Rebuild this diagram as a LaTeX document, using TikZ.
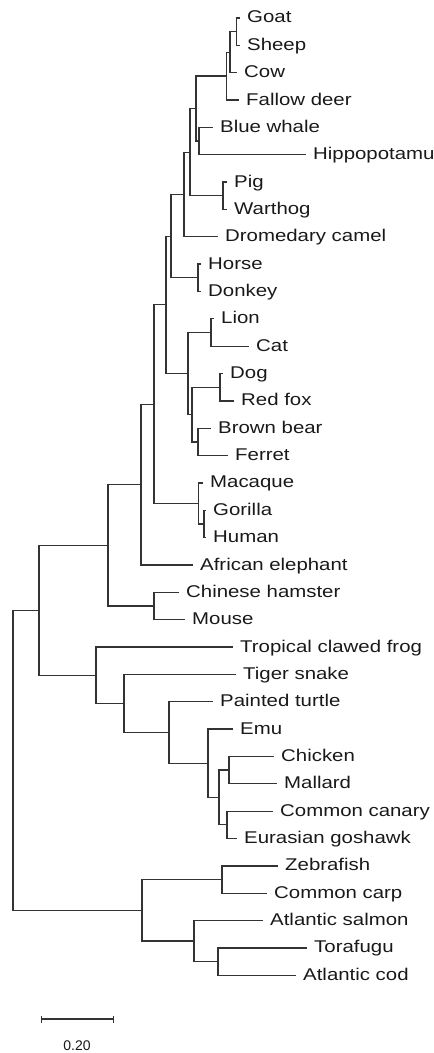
\documentclass[tikz,border=0pt]{standalone}
\usepackage{fontspec}
\setmainfont{Liberation Sans}
\newfontfamily\leaffont{Liberation Sans}[FakeStretch=1.2]
\usetikzlibrary{arrows.meta}

\begin{document}
\begin{tikzpicture}[
  x=1pt, y=-27.35pt,
  font=\leaffont\fontsize{17}{20}\selectfont,
  leaf/.style={anchor=west, inner xsep=8pt, inner ysep=0pt,
               text height=12pt, text depth=2pt, text=black!90},
  branch/.style={draw=black!80, line width=1.3pt, line cap=rect},
  barend/.tip={Bar[width=7pt]}
]
\useasboundingbox (0,-0.658) rectangle (434,37.843);
% --- leaves --------------------------------------------------------------
\node[leaf] (goat)     at (239,0)  {Goat};
\node[leaf] (sheep)    at (239,1)  {Sheep};
\node[leaf] (cow)      at (236,2)  {Cow};
\node[leaf] (deer)     at (238,3)  {Fallow deer};
\node[leaf] (whale)    at (212,4)  {Blue whale};
\node[leaf] (hippo)    at (305,5)  {Hippopotamu};
\node[leaf] (pig)      at (226,6)  {Pig};
\node[leaf] (warthog)  at (226,7)  {Warthog};
\node[leaf] (camel)    at (217,8)  {Dromedary camel};
\node[leaf] (horse)    at (200,9)  {Horse};
\node[leaf] (donkey)   at (200,10) {Donkey};
\node[leaf] (lion)     at (213,11) {Lion};
\node[leaf] (cat)      at (248,12) {Cat};
\node[leaf] (dog)      at (222,13) {Dog};
\node[leaf] (fox)      at (233,14) {Red fox};
\node[leaf] (bear)     at (210,15) {Brown bear};
\node[leaf] (ferret)   at (227,16) {Ferret};
\node[leaf] (macaque)  at (202,17) {Macaque};
\node[leaf] (gorilla)  at (205,18) {Gorilla};
\node[leaf] (human)    at (205,19) {Human};
\node[leaf] (elephant) at (192,20) {African elephant};
\node[leaf] (hamster)  at (178,21) {Chinese hamster};
\node[leaf] (mouse)    at (184,22) {Mouse};
\node[leaf] (frog)     at (232,23) {Tropical clawed frog};
\node[leaf] (snake)    at (235,24) {Tiger snake};
\node[leaf] (turtle)   at (212,25) {Painted turtle};
\node[leaf] (emu)      at (232,26) {Emu};
\node[leaf] (chicken)  at (273,27) {Chicken};
\node[leaf] (mallard)  at (276,28) {Mallard};
\node[leaf] (canary)   at (272,29) {Common canary};
\node[leaf] (goshawk)  at (236,30) {Eurasian goshawk};
\node[leaf] (zebra)    at (277,31) {Zebrafish};
\node[leaf] (carp)     at (266,32) {Common carp};
\node[leaf] (salmon)   at (262,33) {Atlantic salmon};
\node[leaf] (fugu)     at (306,34) {Torafugu};
\node[leaf] (cod)      at (295,35) {Atlantic cod};
% --- inner nodes -----------------------------------------------------------
\coordinate (gs)    at (236.5,0.5);
\coordinate (gsc)   at (230,1.25);
\coordinate (bov)   at (226.5,2.125);
\coordinate (whip)  at (199,4.5);
\coordinate (rw)    at (196,3.3125);
\coordinate (suid)  at (223,6.5);
\coordinate (art)   at (190,4.906);
\coordinate (cet)   at (184,6.453);
\coordinate (equ)   at (198,9.5);
\coordinate (ung)   at (171,7.977);
\coordinate (fel)   at (211,11.5);
\coordinate (cani)  at (220,13.5);
\coordinate (must)  at (198,15.5);
\coordinate (arct)  at (192,14.5);
\coordinate (carn)  at (188,13);
\coordinate (laur)  at (166,10.488);
\coordinate (gh)    at (204,18.5);
\coordinate (prim)  at (198.5,17.75);
\coordinate (boreo) at (154,14.119);
\coordinate (plac)  at (141,17.06);
\coordinate (rod)   at (154,21.5);
\coordinate (mam)   at (108,19.28);
\coordinate (gc)    at (229,27.5);
\coordinate (cg)    at (227,29.5);
\coordinate (neo)   at (219,28.5);
\coordinate (birds) at (208,27.25);
\coordinate (arch)  at (169,26.125);
\coordinate (saur)  at (124,25.06);
\coordinate (amph)  at (96,24.03);
\coordinate (tetra) at (39,21.656);
\coordinate (cyp)   at (222,31.5);
\coordinate (tf)    at (218,34.5);
\coordinate (sal)   at (194,33.75);
\coordinate (fish)  at (142,32.625);
\coordinate (root)  at (13,27.14);
% --- branches --------------------------------------------------------------
\draw[branch] (gs) |- (goat.west);
\draw[branch] (gs) |- (sheep.west);
\draw[branch] (gsc) |- (gs);
\draw[branch] (gsc) |- (cow.west);
\draw[branch] (bov) |- (gsc);
\draw[branch] (bov) |- (deer.west);
\draw[branch] (whip) |- (whale.west);
\draw[branch] (whip) |- (hippo.west);
\draw[branch] (rw) |- (bov);
\draw[branch] (rw) |- (whip);
\draw[branch] (suid) |- (pig.west);
\draw[branch] (suid) |- (warthog.west);
\draw[branch] (art) |- (rw);
\draw[branch] (art) |- (suid);
\draw[branch] (cet) |- (art);
\draw[branch] (cet) |- (camel.west);
\draw[branch] (equ) |- (horse.west);
\draw[branch] (equ) |- (donkey.west);
\draw[branch] (ung) |- (cet);
\draw[branch] (ung) |- (equ);
\draw[branch] (fel) |- (lion.west);
\draw[branch] (fel) |- (cat.west);
\draw[branch] (cani) |- (dog.west);
\draw[branch] (cani) |- (fox.west);
\draw[branch] (must) |- (bear.west);
\draw[branch] (must) |- (ferret.west);
\draw[branch] (arct) |- (cani);
\draw[branch] (arct) |- (must);
\draw[branch] (carn) |- (fel);
\draw[branch] (carn) |- (arct);
\draw[branch] (laur) |- (ung);
\draw[branch] (laur) |- (carn);
\draw[branch] (gh) |- (gorilla.west);
\draw[branch] (gh) |- (human.west);
\draw[branch] (prim) |- (macaque.west);
\draw[branch] (prim) |- (gh);
\draw[branch] (boreo) |- (laur);
\draw[branch] (boreo) |- (prim);
\draw[branch] (plac) |- (boreo);
\draw[branch] (plac) |- (elephant.west);
\draw[branch] (rod) |- (hamster.west);
\draw[branch] (rod) |- (mouse.west);
\draw[branch] (mam) |- (plac);
\draw[branch] (mam) |- (rod);
\draw[branch] (gc) |- (chicken.west);
\draw[branch] (gc) |- (mallard.west);
\draw[branch] (cg) |- (canary.west);
\draw[branch] (cg) |- (goshawk.west);
\draw[branch] (neo) |- (gc);
\draw[branch] (neo) |- (cg);
\draw[branch] (birds) |- (emu.west);
\draw[branch] (birds) |- (neo);
\draw[branch] (arch) |- (turtle.west);
\draw[branch] (arch) |- (birds);
\draw[branch] (saur) |- (snake.west);
\draw[branch] (saur) |- (arch);
\draw[branch] (amph) |- (frog.west);
\draw[branch] (amph) |- (saur);
\draw[branch] (tetra) |- (mam);
\draw[branch] (tetra) |- (amph);
\draw[branch] (cyp) |- (zebra.west);
\draw[branch] (cyp) |- (carp.west);
\draw[branch] (tf) |- (fugu.west);
\draw[branch] (tf) |- (cod.west);
\draw[branch] (sal) |- (salmon.west);
\draw[branch] (sal) |- (tf);
\draw[branch] (fish) |- (cyp);
\draw[branch] (fish) |- (sal);
\draw[branch] (root) |- (tetra);
\draw[branch] (root) |- (fish);
% --- scale bar -------------------------------------------------------------
\coordinate (bar-l) at (40.5,36.6);
\coordinate (bar-r) at (114,36.6);
\draw[branch, line cap=butt, barend-barend] (bar-l) -- (bar-r);
\node[font=\fontsize{14}{16}\selectfont, text=black!90, inner sep=0pt]
  (scale) at (77,37.58) {0.20};
\end{tikzpicture}
\end{document}
